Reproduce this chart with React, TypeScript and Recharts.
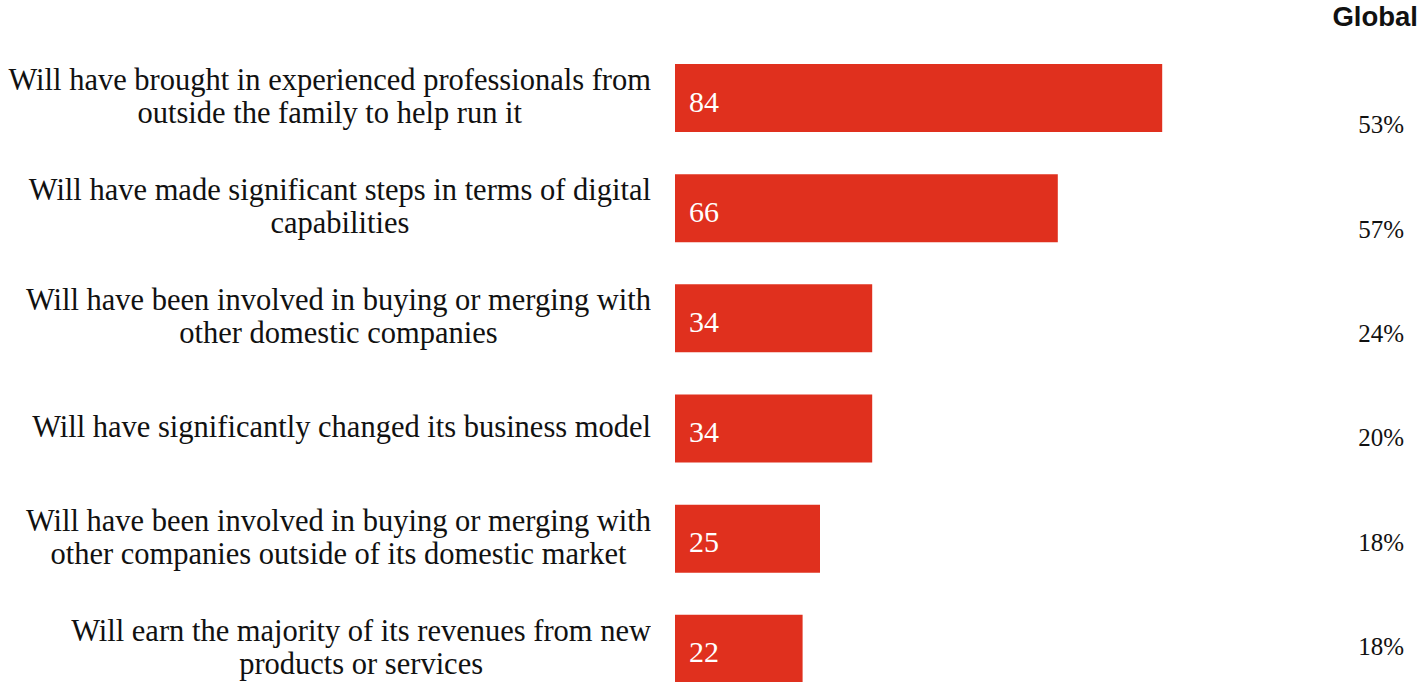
import { Bar, BarChart, LabelList, XAxis, YAxis } from "recharts";

const outcomes = [
  "Will have brought in experienced professionals from\noutside the family to help run it",
  "Will have made significant steps in terms of digital\ncapabilities",
  "Will have been involved in buying or merging with\nother domestic companies",
  "Will have significantly changed its business model",
  "Will have been involved in buying or merging with\nother companies outside of its domestic market",
  "Will earn the majority of its revenues from new\nproducts or services",
];
const localShare = [84, 66, 34, 34, 25, 22];
const globalShare = [53, 57, 24, 20, 18, 18];

const data = outcomes.map((name, i) => ({
  name,
  local: localShare[i],
  global: globalShare[i],
}));

const SERIF = "'Liberation Serif', 'DejaVu Serif', serif";

function OutcomeTick(props: any) {
  const { y, payload } = props;
  return (
    <foreignObject x={0} y={y - 46} width={651} height={90}>
      <div
        style={{
          height: 90,
          display: "flex",
          alignItems: "center",
          justifyContent: "flex-end",
        }}
      >
        <div
          style={{
            textAlign: "center",
            whiteSpace: "pre-line",
            fontFamily: SERIF,
            fontSize: 30.5,
            lineHeight: "33px",
            color: "#111",
          }}
        >
          {payload.value}
        </div>
      </div>
    </foreignObject>
  );
}

function GlobalTick(props: any) {
  const { x, y, index } = props;
  return (
    <text
      x={x + 141}
      y={y}
      dy={8}
      textAnchor="end"
      fontFamily={SERIF}
      fontSize={25}
      fill="#111"
    >
      {`${globalShare[index]}%`}
    </text>
  );
}

export default function App() {
  return (
    <div
      style={{
        position: "absolute",
        left: 0,
        top: 0,
        width: 1419,
        height: 682,
        overflow: "hidden",
        background: "#fff",
      }}
    >
      <div
        style={{
          position: "absolute",
          right: 1,
          top: 1,
          fontFamily: "'Liberation Sans', Arial, sans-serif",
          fontWeight: "bold",
          fontSize: 27.5,
          color: "#111",
        }}
      >
        Global
      </div>
      <BarChart
        width={1419}
        height={704}
        data={data}
        layout="vertical"
        margin={{ top: 43, right: 0, bottom: 0, left: 0 }}
      >
        <XAxis type="number" domain={[0, 100]} hide />
        <YAxis
          type="category"
          dataKey="name"
          width={675}
          tickLine={false}
          axisLine={false}
          tick={<OutcomeTick />}
          interval={0}
        />
        <YAxis
          yAxisId="global"
          orientation="right"
          type="category"
          dataKey="name"
          width={164}
          padding={{ top: 30, bottom: 5 }}
          tickLine={false}
          axisLine={false}
          tick={<GlobalTick />}
          interval={0}
        />
        <Bar dataKey="local" fill="#E0301E" barSize={68} isAnimationActive={false}>
          <LabelList
            dataKey="local"
            position="insideLeft"
            offset={14}
            fill="#fff"
            fontFamily={SERIF}
            fontSize={30}
            dy={3}
          />
        </Bar>
      </BarChart>
    </div>
  );
}
